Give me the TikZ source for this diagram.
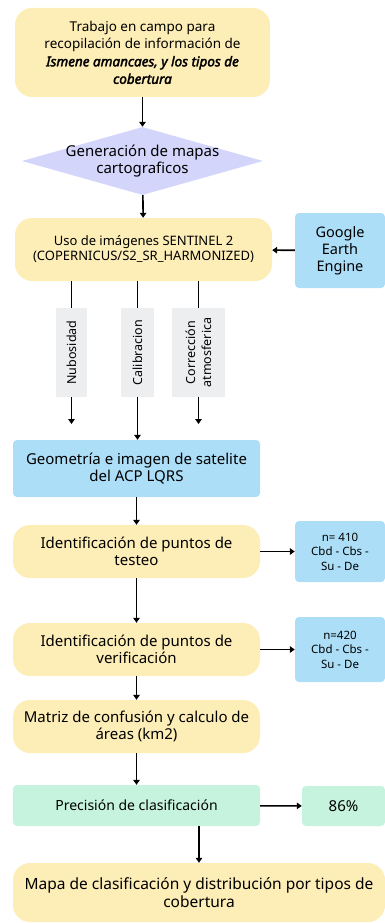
\documentclass[tikz,border=0pt]{standalone}
\usepackage{fontspec}
\setmainfont{Noto Sans}[BoldItalicFont={Noto Sans Italic}, BoldItalicFeatures={FakeBold=2.5}]
\usetikzlibrary{arrows.meta,shapes.geometric}

\definecolor{amarillo}{RGB}{253,237,182}
\definecolor{celeste}{RGB}{172,222,248}
\definecolor{lavanda}{RGB}{211,214,250}
\definecolor{verdeagua}{RGB}{198,243,222}
\definecolor{grisclaro}{RGB}{236,238,240}

\tikzset{
  caja/.style={align=center, inner sep=2pt, font=\fontsize{15}{17}\selectfont},
  amar/.style={caja, fill=amarillo, rounded corners=17pt, minimum width=247pt, minimum height=53pt},
  azul/.style={caja, fill=celeste, rounded corners=4pt},
  verde/.style={caja, fill=verdeagua, rounded corners=4pt},
  etiq/.style={caja, fill=grisclaro, rotate=90, minimum width=89pt, font=\fontsize{12.5}{16}\selectfont},
  flecha/.style={-{Triangle[length=5pt,width=6.5pt]}, line width=1.6pt},
  linea/.style={line width=1.6pt}
}

\begin{document}
\begin{tikzpicture}[x=1pt,y=-1pt]
	\useasboundingbox (0,0) rectangle (385,923);

	% cajas principales
	\node[amar, minimum width=255pt, minimum height=89pt, font=\fontsize{13.5}{17.5}\selectfont] (campo) at (142.5,52.5) {Trabajo en campo para\\recopilación de información de\\\textbf{\textit{Ismene amancaes, y los tipos de}}\\\textbf{\textit{cobertura}}};
	\node[diamond, fill=lavanda, minimum width=241pt, minimum height=68pt, inner sep=0pt] (gen) at (142.5,161) {};
	\node[caja] (gentxt) at (gen) {Generación de mapas\\cartograficos};
	\node[amar, minimum width=257pt, minimum height=63pt, font=\fontsize{13}{15}\selectfont] (sent) at (143.5,249.5) {Uso de imágenes SENTINEL 2\\(COPERNICUS/S2\_SR\_HARMONIZED)};
	\node[azul, minimum width=90pt, minimum height=75pt, font=\fontsize{14.5}{17}\selectfont] (gee) at (340,250.5) {Google\\Earth\\Engine};

	% correcciones
	\node[etiq, minimum height=31pt] (nub) at (71.5,352.5) {Nubosidad};
	\node[etiq, minimum height=33pt] (cal) at (137.5,352.5) {Calibracion};
	\node[etiq, minimum height=53pt] (cor) at (198.5,352.5) {Corrección\\atmosferica};
	\coordinate (nubfin) at (71.5,424);
	\coordinate (corfin) at (198.5,424);

	\node[azul, minimum width=247pt, minimum height=57pt] (geo) at (136.5,468.5) {Geometría e imagen de satelite\\del ACP LQRS};
	\node[amar] (test) at (136.5,551.5) {Identificación de puntos de\\testeo};
	\node[azul, minimum width=90pt, minimum height=61pt, font=\fontsize{11.5}{14.5}\selectfont] (n410) at (340,551.5) {n= 410\\Cbd - Cbs -\\Su - De};
	\node[amar] (verif) at (136.5,649.5) {Identificación de puntos de\\verificación};
	\node[azul, minimum width=90pt, minimum height=65pt, font=\fontsize{11.5}{14.5}\selectfont] (n420) at (340,649.5) {n=420\\Cbd - Cbs -\\Su - De};
	\node[amar] (mat) at (136.5,726.5) {Matriz de confusión y calculo de\\áreas (km2)};
	\node[verde, minimum width=247pt, minimum height=41pt, font=\fontsize{14}{16}\selectfont] (prec) at (136.5,805.5) {Precisión de clasificación};
	\node[verde, minimum width=83pt, minimum height=40pt] (pct) at (343.5,806) {86\%};
	\node[amar, minimum width=372pt, minimum height=59pt, font=\fontsize{15.5}{18}\selectfont] (mapa) at (199,892.5) {Mapa de clasificación y distribución por tipos de\\cobertura};

	% conectores
	\draw[flecha] (campo) -- (gen);
	\draw[flecha] (gen) -- (sent);
	\draw[flecha] (gee) -- (sent);
	\draw[linea] (nub.east |- sent.south) -- (nub.east);
	\draw[linea] (cal.east |- sent.south) -- (cal.east);
	\draw[linea] (cor.east |- sent.south) -- (cor.east);
	\draw[flecha] (nub.west) -- (nubfin);
	\draw[flecha] (cal.west) -- (cal.west |- geo.north);
	\draw[flecha] (cor.west) -- (corfin);
	\draw[flecha] (geo) -- (test);
	\draw[flecha] (test) -- (verif);
	\draw[flecha] (verif) -- (mat);
	\draw[flecha] (mat) -- (prec);
	\draw[flecha] (test) -- (n410);
	\draw[flecha] (verif) -- (n420);
	\draw[flecha] (prec) -- (pct);
	\draw[flecha] (prec.south -| mapa.north) -- (mapa.north);
\end{tikzpicture}
\end{document}
